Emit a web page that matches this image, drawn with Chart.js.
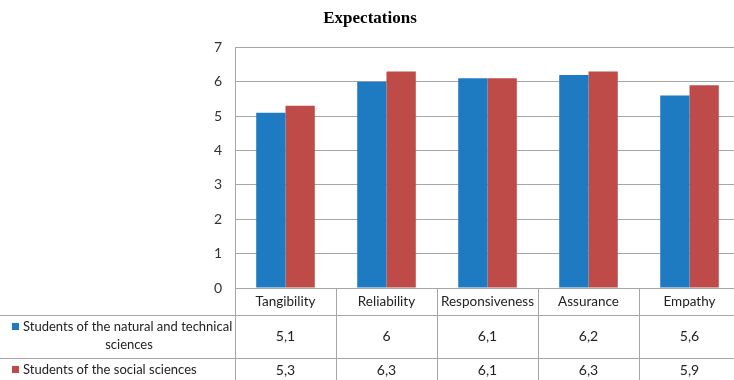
<!DOCTYPE html>
<html>
<head>
<meta charset="utf-8">
<script src="https://cdn.jsdelivr.net/npm/chart.js@4/dist/chart.umd.min.js"></script>
<style>
  html, body { margin: 0; padding: 0; background: #fff; overflow: hidden; }
  #wrap { width: 734px; height: 380px; overflow: hidden; }
</style>
</head>
<body>
<div id="wrap"><canvas id="chart" width="742" height="380"></canvas></div>
<script>
const categories = ["Tangibility", "Reliability", "Responsiveness", "Assurance", "Empathy"];
const seriesNames = ["Students of the natural and technical sciences", "Students of the social sciences"];
const naturalTech = [5.1, 6, 6.1, 6.2, 5.6];
const socialSci = [5.3, 6.3, 6.1, 6.3, 5.9];
const yTicks = [0, 1, 2, 3, 4, 5, 6, 7];

const BLUE = "#1f7bc1";
const RED = "#be4b48";
const LINE = "#a6a6a6";
const FONT = "Lato";

// number shown in the table uses a comma as decimal separator
function fmt(v) {
  return String(v).replace(".", ",");
}

// data table under the plot: header with categories, one row per series
const dataTable = {
  id: "dataTable",
  afterDraw(chart) {
    const ctx = chart.ctx;
    const area = chart.chartArea;
    const x = chart.scales.x;
    const n = categories.length;
    const step = (area.right - area.left) / n;
    const top = area.bottom;
    const row1 = 315, row2 = 358, bottom = 380;

    ctx.save();
    ctx.strokeStyle = LINE;
    ctx.lineWidth = 1;

    // vertical separators
    for (let i = 0; i <= n; i++) {
      const px = Math.round(area.left + i * step) + 0.5;
      ctx.beginPath();
      ctx.moveTo(px, top);
      ctx.lineTo(px, bottom);
      ctx.stroke();
    }
    // horizontal separators
    [row1, row2].forEach(y => {
      ctx.beginPath();
      ctx.moveTo(0, y + 0.5);
      ctx.lineTo(area.right, y + 0.5);
      ctx.stroke();
    });

    ctx.fillStyle = "#222";
    ctx.textAlign = "center";
    ctx.textBaseline = "middle";

    categories.forEach((c, i) => {
      const cx = x.getPixelForValue(i);
      ctx.font = "13.5px " + FONT;
      ctx.fillText(c, cx, (top + row1) / 2);
      ctx.font = "14px " + FONT;
      ctx.fillText(fmt(naturalTech[i]), cx, (row1 + row2) / 2);
      ctx.fillText(fmt(socialSci[i]), cx, 370);
    });

    // series labels with colour keys
    ctx.font = "13px " + FONT;
    ctx.textAlign = "left";
    ctx.fillStyle = BLUE;
    ctx.fillRect(12, 323, 7, 7);
    ctx.fillStyle = "#222";
    ctx.fillText("Students of the natural and technical", 23, 327);
    ctx.textAlign = "center";
    ctx.fillText("sciences", 129, 345);

    ctx.textAlign = "left";
    ctx.fillStyle = RED;
    ctx.fillRect(12, 366, 7, 7);
    ctx.fillStyle = "#222";
    ctx.fillText("Students of the social sciences", 23, 370);
    ctx.restore();
  }
};

new Chart(document.getElementById("chart"), {
  type: "bar",
  data: {
    labels: categories,
    datasets: [
      { label: seriesNames[0], data: naturalTech, backgroundColor: BLUE,
        categoryPercentage: 0.58, barPercentage: 1.0 },
      { label: seriesNames[1], data: socialSci, backgroundColor: RED,
        categoryPercentage: 0.58, barPercentage: 1.0 }
    ]
  },
  options: {
    responsive: false,
    animation: false,
    layout: { padding: { top: 0, right: 2, bottom: 92, left: 0 } },
    plugins: {
      legend: { display: false },
      tooltip: { enabled: false },
      title: {
        display: true,
        text: "Expectations",
        color: "#000",
        font: { family: "Liberation Serif", size: 17, weight: "bold" },
        padding: { top: 8, bottom: 19 }
      }
    },
    scales: {
      x: {
        display: false
      },
      y: {
        min: 0,
        max: 7,
        afterBuildTicks(scale) {
          scale.ticks = yTicks.map(v => ({ value: v }));
        },
        afterFit(scale) {
          scale.width = 235;
        },
        grid: { color: LINE, drawTicks: false },
        border: { color: LINE },
        ticks: {
          padding: 13,
          color: "#333",
          font: { family: FONT, size: 14 }
        }
      }
    }
  },
  plugins: [dataTable]
});
</script>
</body>
</html>
